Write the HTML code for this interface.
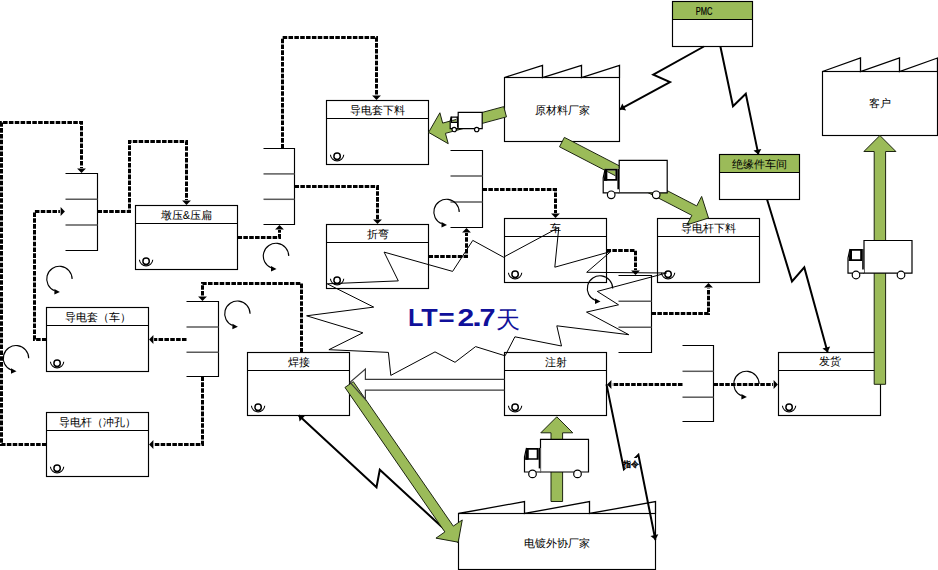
<!DOCTYPE html>
<html><head><meta charset="utf-8"><style>
html,body{margin:0;padding:0;background:#fff;width:938px;height:570px;overflow:hidden}
svg{display:block;font-family:"Liberation Sans",sans-serif}
</style></head><body>
<svg width="938" height="570" viewBox="0 0 938 570">
<rect width="938" height="570" fill="#fff"/>
<path d="M504.5,77.5 L542.5,65.5 L542.5,77.5 L581.5,65.5 L581.5,77.5 L619.5,65.5 L619.5,77.5 " fill="none" stroke="#000" stroke-width="1.3" stroke-linejoin="miter"/>
<rect x="504.5" y="77.5" width="115.0" height="64.0" fill="none" stroke="#000" stroke-width="1.15"/>
<path d="M822.5,71.5 L860.5,58 L860.5,71.5 L899.5,58 L899.5,71.5 L937.5,58 L937.5,71.5 " fill="none" stroke="#000" stroke-width="1.3" stroke-linejoin="miter"/>
<rect x="822.5" y="71.5" width="115.0" height="64.0" fill="none" stroke="#000" stroke-width="1.15"/>
<path d="M458.5,513.5 L524.5,501.6 L524.5,513.5 L589.5,501.6 L589.5,513.5 L655.5,501.6 L655.5,513.5 " fill="none" stroke="#000" stroke-width="1.3" stroke-linejoin="miter"/>
<rect x="458.5" y="513.5" width="197.0" height="56.0" fill="none" stroke="#000" stroke-width="1.15"/>
<rect x="135.5" y="205.5" width="102.0" height="64.0" fill="none" stroke="#000" stroke-width="1.15"/>
<line x1="135.5" y1="223.5" x2="237.5" y2="223.5" stroke="#000" stroke-width="1.15"/>
<circle cx="146.1" cy="261.2" r="3.2" fill="none" stroke="#000" stroke-width="1.45"/>
<path d="M152.78,259.67 A6.7,6.7 0 0 1 139.42,259.67" fill="none" stroke="#000" stroke-width="1.05"/>
<rect x="46.5" y="307.5" width="102.0" height="64.0" fill="none" stroke="#000" stroke-width="1.15"/>
<line x1="46.5" y1="325.5" x2="148.5" y2="325.5" stroke="#000" stroke-width="1.15"/>
<circle cx="57.1" cy="363.2" r="3.2" fill="none" stroke="#000" stroke-width="1.45"/>
<path d="M63.78,361.67 A6.7,6.7 0 0 1 50.42,361.67" fill="none" stroke="#000" stroke-width="1.05"/>
<rect x="46.5" y="412.5" width="102.0" height="64.0" fill="none" stroke="#000" stroke-width="1.15"/>
<line x1="46.5" y1="430.5" x2="148.5" y2="430.5" stroke="#000" stroke-width="1.15"/>
<circle cx="57.1" cy="468.2" r="3.2" fill="none" stroke="#000" stroke-width="1.45"/>
<path d="M63.78,466.67 A6.7,6.7 0 0 1 50.42,466.67" fill="none" stroke="#000" stroke-width="1.05"/>
<rect x="326.5" y="100.5" width="102.0" height="64.0" fill="none" stroke="#000" stroke-width="1.15"/>
<line x1="326.5" y1="118.5" x2="428.5" y2="118.5" stroke="#000" stroke-width="1.15"/>
<circle cx="337.1" cy="156.2" r="3.2" fill="none" stroke="#000" stroke-width="1.45"/>
<path d="M343.78,154.67 A6.7,6.7 0 0 1 330.42,154.67" fill="none" stroke="#000" stroke-width="1.05"/>
<rect x="326.5" y="224.5" width="102.0" height="64.0" fill="none" stroke="#000" stroke-width="1.15"/>
<line x1="326.5" y1="242.5" x2="428.5" y2="242.5" stroke="#000" stroke-width="1.15"/>
<circle cx="337.1" cy="280.2" r="3.2" fill="none" stroke="#000" stroke-width="1.45"/>
<path d="M343.78,278.67 A6.7,6.7 0 0 1 330.42,278.67" fill="none" stroke="#000" stroke-width="1.05"/>
<rect x="247.5" y="352.5" width="102.0" height="63.0" fill="none" stroke="#000" stroke-width="1.15"/>
<line x1="247.5" y1="370.5" x2="349.5" y2="370.5" stroke="#000" stroke-width="1.15"/>
<circle cx="258.1" cy="407.2" r="3.2" fill="none" stroke="#000" stroke-width="1.45"/>
<path d="M264.78,405.67 A6.7,6.7 0 0 1 251.42,405.67" fill="none" stroke="#000" stroke-width="1.05"/>
<rect x="504.5" y="218.5" width="102.0" height="64.0" fill="none" stroke="#000" stroke-width="1.15"/>
<line x1="504.5" y1="236.5" x2="606.5" y2="236.5" stroke="#000" stroke-width="1.15"/>
<circle cx="515.1" cy="274.2" r="3.2" fill="none" stroke="#000" stroke-width="1.45"/>
<path d="M521.78,272.67 A6.7,6.7 0 0 1 508.42,272.67" fill="none" stroke="#000" stroke-width="1.05"/>
<rect x="657.5" y="218.5" width="102.0" height="64.0" fill="none" stroke="#000" stroke-width="1.15"/>
<line x1="657.5" y1="236.5" x2="759.5" y2="236.5" stroke="#000" stroke-width="1.15"/>
<circle cx="668.1" cy="274.2" r="3.2" fill="none" stroke="#000" stroke-width="1.45"/>
<path d="M674.78,272.67 A6.7,6.7 0 0 1 661.42,272.67" fill="none" stroke="#000" stroke-width="1.05"/>
<rect x="504.5" y="352.5" width="102.0" height="63.0" fill="none" stroke="#000" stroke-width="1.15"/>
<line x1="504.5" y1="370.5" x2="606.5" y2="370.5" stroke="#000" stroke-width="1.15"/>
<circle cx="515.1" cy="407.2" r="3.2" fill="none" stroke="#000" stroke-width="1.45"/>
<path d="M521.78,405.67 A6.7,6.7 0 0 1 508.42,405.67" fill="none" stroke="#000" stroke-width="1.05"/>
<rect x="778.5" y="352.5" width="102.0" height="63.0" fill="none" stroke="#000" stroke-width="1.15"/>
<line x1="778.5" y1="370.5" x2="880.5" y2="370.5" stroke="#000" stroke-width="1.15"/>
<circle cx="789.1" cy="407.2" r="3.2" fill="none" stroke="#000" stroke-width="1.45"/>
<path d="M795.78,405.67 A6.7,6.7 0 0 1 782.42,405.67" fill="none" stroke="#000" stroke-width="1.05"/>
<rect x="672.5" y="1.5" width="80.0" height="18.0" fill="#9BBB59"/>
<rect x="672.5" y="1.5" width="80.0" height="45.0" fill="none" stroke="#000" stroke-width="1.15"/>
<line x1="672.5" y1="19.5" x2="752.5" y2="19.5" stroke="#000" stroke-width="1.15"/>
<rect x="719.5" y="154.5" width="80.0" height="18.0" fill="#9BBB59"/>
<rect x="719.5" y="154.5" width="80.0" height="45.0" fill="none" stroke="#000" stroke-width="1.15"/>
<line x1="719.5" y1="172.5" x2="799.5" y2="172.5" stroke="#000" stroke-width="1.15"/>
<path d="M65.5,173.5 H97.5 V250.5 H65.5" fill="none" stroke="#000" stroke-width="1.15"/>
<line x1="65.5" y1="199.2" x2="97.5" y2="199.2" stroke="#5a5a5a" stroke-width="1.5"/>
<line x1="65.5" y1="225" x2="97.5" y2="225" stroke="#5a5a5a" stroke-width="1.5"/>
<path d="M263.5,148.5 H294.5 V224.5 H263.5" fill="none" stroke="#000" stroke-width="1.15"/>
<line x1="263.5" y1="173.9" x2="294.5" y2="173.9" stroke="#5a5a5a" stroke-width="1.5"/>
<line x1="263.5" y1="199.3" x2="294.5" y2="199.3" stroke="#5a5a5a" stroke-width="1.5"/>
<path d="M186.5,301.5 H218.5 V376.5 H186.5" fill="none" stroke="#000" stroke-width="1.15"/>
<line x1="186.5" y1="327" x2="218.5" y2="327" stroke="#5a5a5a" stroke-width="1.5"/>
<line x1="186.5" y1="352.2" x2="218.5" y2="352.2" stroke="#5a5a5a" stroke-width="1.5"/>
<path d="M450.5,150.5 H482.5 V227.5 H450.5" fill="none" stroke="#000" stroke-width="1.15"/>
<line x1="450.5" y1="176" x2="482.5" y2="176" stroke="#5a5a5a" stroke-width="1.5"/>
<line x1="450.5" y1="201.9" x2="482.5" y2="201.9" stroke="#5a5a5a" stroke-width="1.5"/>
<path d="M618.5,275.5 H651.5 V352.5 H618.5" fill="none" stroke="#000" stroke-width="1.15"/>
<line x1="618.5" y1="301.3" x2="651.5" y2="301.3" stroke="#5a5a5a" stroke-width="1.5"/>
<line x1="618.5" y1="327.2" x2="651.5" y2="327.2" stroke="#5a5a5a" stroke-width="1.5"/>
<path d="M682.5,345.5 H713.5 V421.5 H682.5" fill="none" stroke="#000" stroke-width="1.15"/>
<line x1="682.5" y1="371.3" x2="713.5" y2="371.3" stroke="#5a5a5a" stroke-width="1.5"/>
<line x1="682.5" y1="397.2" x2="713.5" y2="397.2" stroke="#5a5a5a" stroke-width="1.5"/>
<polygon points="81.50,172.90 77.10,168.60 85.90,168.60" fill="#000"/>
<path d="M46.50,444.50 L1.50,444.50 L1.50,122.50 L81.50,122.50 L81.50,167.90" fill="none" stroke="#000" stroke-width="3" stroke-dasharray="4.55 1.3" stroke-linejoin="miter"/>
<polygon points="186.50,204.90 182.10,200.60 190.90,200.60" fill="#000"/>
<path d="M97.50,211.50 L129.50,211.50 L129.50,141.50 L186.50,141.50 L186.50,199.90" fill="none" stroke="#000" stroke-width="3" stroke-dasharray="4.55 1.3" stroke-linejoin="miter"/>
<polygon points="64.90,211.50 60.60,215.90 60.60,207.10" fill="#000"/>
<path d="M46.50,339.50 L34.50,339.50 L34.50,211.50 L59.90,211.50" fill="none" stroke="#000" stroke-width="3" stroke-dasharray="4.55 1.3" stroke-linejoin="miter"/>
<polygon points="279.50,225.10 283.90,229.40 275.10,229.40" fill="#000"/>
<path d="M237.50,237.50 L279.50,237.50 L279.50,230.10" fill="none" stroke="#000" stroke-width="3" stroke-dasharray="4.55 1.3" stroke-linejoin="miter"/>
<polygon points="376.50,99.90 372.10,95.60 380.90,95.60" fill="#000"/>
<path d="M282.50,148.50 L282.50,37.50 L376.50,37.50 L376.50,94.90" fill="none" stroke="#000" stroke-width="3" stroke-dasharray="4.55 1.3" stroke-linejoin="miter"/>
<polygon points="377.50,223.90 373.10,219.60 381.90,219.60" fill="#000"/>
<path d="M294.50,186.50 L377.50,186.50 L377.50,218.90" fill="none" stroke="#000" stroke-width="3" stroke-dasharray="4.55 1.3" stroke-linejoin="miter"/>
<polygon points="466.50,228.10 470.90,232.40 462.10,232.40" fill="#000"/>
<path d="M428.50,256.50 L466.50,256.50 L466.50,233.10" fill="none" stroke="#000" stroke-width="3" stroke-dasharray="4.55 1.3" stroke-linejoin="miter"/>
<polygon points="555.50,217.90 551.10,213.60 559.90,213.60" fill="#000"/>
<path d="M482.50,189.50 L555.50,189.50 L555.50,212.90" fill="none" stroke="#000" stroke-width="3" stroke-dasharray="4.55 1.3" stroke-linejoin="miter"/>
<polygon points="635.50,274.90 631.10,270.60 639.90,270.60" fill="#000"/>
<path d="M606.50,250.50 L635.50,250.50 L635.50,269.90" fill="none" stroke="#000" stroke-width="3" stroke-dasharray="4.55 1.3" stroke-linejoin="miter"/>
<polygon points="708.50,283.10 712.90,287.40 704.10,287.40" fill="#000"/>
<path d="M651.50,313.50 L708.50,313.50 L708.50,288.10" fill="none" stroke="#000" stroke-width="3" stroke-dasharray="4.55 1.3" stroke-linejoin="miter"/>
<polygon points="202.50,300.90 198.10,296.60 206.90,296.60" fill="#000"/>
<path d="M301.50,352.50 L301.50,283.50 L202.50,283.50 L202.50,295.90" fill="none" stroke="#000" stroke-width="3" stroke-dasharray="4.55 1.3" stroke-linejoin="miter"/>
<polygon points="149.10,339.50 153.40,335.10 153.40,343.90" fill="#000"/>
<path d="M186.50,339.50 L154.10,339.50" fill="none" stroke="#000" stroke-width="3" stroke-dasharray="4.55 1.3" stroke-linejoin="miter"/>
<polygon points="149.10,444.50 153.40,440.10 153.40,448.90" fill="#000"/>
<path d="M202.50,376.50 L202.50,444.50 L154.10,444.50" fill="none" stroke="#000" stroke-width="3" stroke-dasharray="4.55 1.3" stroke-linejoin="miter"/>
<polygon points="607.10,384.50 611.40,380.10 611.40,388.90" fill="#000"/>
<path d="M682.50,384.50 L612.10,384.50" fill="none" stroke="#000" stroke-width="3" stroke-dasharray="4.55 1.3" stroke-linejoin="miter"/>
<polygon points="777.90,384.50 773.60,388.90 773.60,380.10" fill="#000"/>
<path d="M713.50,384.50 L772.90,384.50" fill="none" stroke="#000" stroke-width="3" stroke-dasharray="4.55 1.3" stroke-linejoin="miter"/>
<path d="M72.10,279.00 A12.7,12.7 0 1 0 54.64,290.78" fill="none" stroke="#000" stroke-width="1.15"/>
<polygon points="59.90,292.00 54.40,289.00 54.40,294.60" fill="#000"/>
<path d="M28.70,358.20 A12.7,12.7 0 1 0 11.24,369.98" fill="none" stroke="#000" stroke-width="1.15"/>
<polygon points="16.50,371.20 11.00,368.20 11.00,373.80" fill="#000"/>
<path d="M288.70,256.00 A12.7,12.7 0 1 0 271.24,267.78" fill="none" stroke="#000" stroke-width="1.15"/>
<polygon points="276.50,269.00 271.00,266.00 271.00,271.60" fill="#000"/>
<path d="M250.10,313.70 A12.7,12.7 0 1 0 232.64,325.48" fill="none" stroke="#000" stroke-width="1.15"/>
<polygon points="237.90,326.70 232.40,323.70 232.40,329.30" fill="#000"/>
<path d="M459.20,212.00 A12.7,12.7 0 1 0 441.74,223.78" fill="none" stroke="#000" stroke-width="1.15"/>
<polygon points="447.00,225.00 441.50,222.00 441.50,227.60" fill="#000"/>
<path d="M612.70,288.50 A12.7,12.7 0 1 0 595.24,300.28" fill="none" stroke="#000" stroke-width="1.15"/>
<polygon points="600.50,301.50 595.00,298.50 595.00,304.10" fill="#000"/>
<path d="M759.10,384.00 A12.7,12.7 0 1 0 741.64,395.78" fill="none" stroke="#000" stroke-width="1.15"/>
<polygon points="746.90,397.00 741.40,394.00 741.40,399.60" fill="#000"/>
<path d="M703.9,46.5 L653.3,74.6 L670,82.1 L619.8,109.3" fill="none" stroke="#000" stroke-width="2" stroke-linejoin="miter"/>
<polygon points="619.80,109.30 622.29,103.40 626.10,110.43" fill="#000"/>
<path d="M720.4,46.5 L733,106.3 L745.8,93.7 L758.4,154.6" fill="none" stroke="#000" stroke-width="2" stroke-linejoin="miter"/>
<polygon points="758.40,154.60 753.47,150.51 761.30,148.89" fill="#000"/>
<path d="M767,199.3 L792,281.4 L804.3,267.4 L827.6,352.3" fill="none" stroke="#000" stroke-width="2" stroke-linejoin="miter"/>
<polygon points="827.60,352.30 822.42,348.54 830.13,346.42" fill="#000"/>
<path d="M458.5,542.2 L379.8,469.8 L376.5,487.3 L298.6,415.2" fill="none" stroke="#000" stroke-width="2" stroke-linejoin="miter"/>
<polygon points="298.60,415.20 304.99,415.66 299.55,421.53" fill="#000"/>
<path d="M606.5,384.4 L623.9,469.2 L638.4,454.8 L655.4,540" fill="none" stroke="#000" stroke-width="2" stroke-linejoin="miter"/>
<polygon points="655.40,540.00 650.50,535.88 658.34,534.31" fill="#000"/>
<rect x="624.2" y="458" width="13.6" height="10.2" fill="#fff"/>
<text x="631.3" y="466.6" font-size="7.6" text-anchor="middle" fill="#000" stroke="#000" stroke-width="0.45">指令</text>
<polygon points="503.72,106.63 442.67,123.11 439.88,112.78 428.60,132.40 448.22,143.68 445.43,133.35 506.48,116.87" fill="#9BBB59" stroke="#1c2410" stroke-width="1" stroke-linejoin="miter"/>
<polygon points="559.51,146.81 691.85,215.35 686.93,224.85 708.50,218.00 701.65,196.43 696.73,205.94 564.39,137.39" fill="#9BBB59" stroke="#1c2410" stroke-width="1" stroke-linejoin="miter"/>
<polygon points="885.60,384.30 885.60,151.50 895.90,151.50 879.90,135.50 863.90,151.50 874.20,151.50 874.20,384.30" fill="#9BBB59" stroke="#1c2410" stroke-width="1" stroke-linejoin="miter"/>
<polygon points="344.96,387.45 444.90,531.94 435.94,538.14 458.20,542.20 462.26,519.94 453.29,526.14 353.34,381.65" fill="#9BBB59" stroke="#1c2410" stroke-width="1" stroke-linejoin="miter"/>
<polygon points="562.60,501.50 562.60,432.80 572.80,432.80 556.80,416.80 540.80,432.80 551.00,432.80 551.00,501.50" fill="#9BBB59" stroke="#1c2410" stroke-width="1" stroke-linejoin="miter"/>
<g transform="translate(458.2,112.3) scale(0.5)">
<rect x="0" y="0" width="48" height="32.6" fill="#fff" stroke="#000" stroke-width="1.2" vector-effect="non-scaling-stroke"/>
<path d="M0,8.5 H-14 L-16,17.5 V32.6 H0 Z M-12,10.3 V18.8 H-3.8 V10.3 Z" fill="#fff" fill-rule="evenodd" stroke="none"/>
<path d="M-14,8.5 L-16,17.5 V32.6 H0" fill="none" stroke="#000" stroke-width="1.2" vector-effect="non-scaling-stroke"/>
<rect x="-13.4" y="9.6" width="11.6" height="10.6" fill="none" stroke="#000" stroke-width="1.3" vector-effect="non-scaling-stroke"/>
<line x1="-1" y1="8.5" x2="-1" y2="31" stroke="#000" stroke-width="1.4" vector-effect="non-scaling-stroke"/>
<circle cx="-8" cy="34.5" r="4.4" fill="#fff" stroke="#000" stroke-width="1.2" vector-effect="non-scaling-stroke"/>
<circle cx="37" cy="34.5" r="4.4" fill="#fff" stroke="#000" stroke-width="1.2" vector-effect="non-scaling-stroke"/>
</g>
<g transform="translate(619.2,160.3) scale(1.0)">
<rect x="0" y="0" width="48" height="32.6" fill="#fff" stroke="#000" stroke-width="1.2" vector-effect="non-scaling-stroke"/>
<path d="M0,8.5 H-14 L-16,17.5 V32.6 H0 Z M-12,10.3 V18.8 H-3.8 V10.3 Z" fill="#fff" fill-rule="evenodd" stroke="none"/>
<path d="M-14,8.5 L-16,17.5 V32.6 H0" fill="none" stroke="#000" stroke-width="1.2" vector-effect="non-scaling-stroke"/>
<path d="M-14,8.5 H-1.8 V20.4 H-15.2 Z M-12,10.3 V18.8 H-3.8 V10.3 Z" fill="#000" fill-rule="evenodd"/>
<path d="M-14,8.5 L-15.4,20.4 H-12 L-12,10.3 Z" fill="#000"/>
<rect x="-1.8" y="8.5" width="1.6" height="20.5" fill="#000"/>
<circle cx="-8" cy="34.5" r="3.8" fill="#fff" stroke="#000" stroke-width="1.2" vector-effect="non-scaling-stroke"/>
<circle cx="37" cy="34.5" r="3.8" fill="#fff" stroke="#000" stroke-width="1.2" vector-effect="non-scaling-stroke"/>
</g>
<g transform="translate(864,240.5) scale(1.0)">
<rect x="0" y="0" width="48" height="32.6" fill="#fff" stroke="#000" stroke-width="1.2" vector-effect="non-scaling-stroke"/>
<path d="M0,8.5 H-14 L-16,17.5 V32.6 H0 Z M-12,10.3 V18.8 H-3.8 V10.3 Z" fill="#fff" fill-rule="evenodd" stroke="none"/>
<path d="M-14,8.5 L-16,17.5 V32.6 H0" fill="none" stroke="#000" stroke-width="1.2" vector-effect="non-scaling-stroke"/>
<path d="M-14,8.5 H-1.8 V20.4 H-15.2 Z M-12,10.3 V18.8 H-3.8 V10.3 Z" fill="#000" fill-rule="evenodd"/>
<path d="M-14,8.5 L-15.4,20.4 H-12 L-12,10.3 Z" fill="#000"/>
<rect x="-1.8" y="8.5" width="1.6" height="20.5" fill="#000"/>
<circle cx="-8" cy="34.5" r="3.8" fill="#fff" stroke="#000" stroke-width="1.2" vector-effect="non-scaling-stroke"/>
<circle cx="37" cy="34.5" r="3.8" fill="#fff" stroke="#000" stroke-width="1.2" vector-effect="non-scaling-stroke"/>
</g>
<g transform="translate(540.5,439.4) scale(1.0)">
<rect x="0" y="0" width="48" height="32.6" fill="#fff" stroke="#000" stroke-width="1.2" vector-effect="non-scaling-stroke"/>
<path d="M0,8.5 H-14 L-16,17.5 V32.6 H0 Z M-12,10.3 V18.8 H-3.8 V10.3 Z" fill="#fff" fill-rule="evenodd" stroke="none"/>
<path d="M-14,8.5 L-16,17.5 V32.6 H0" fill="none" stroke="#000" stroke-width="1.2" vector-effect="non-scaling-stroke"/>
<path d="M-14,8.5 H-1.8 V20.4 H-15.2 Z M-12,10.3 V18.8 H-3.8 V10.3 Z" fill="#000" fill-rule="evenodd"/>
<path d="M-14,8.5 L-15.4,20.4 H-12 L-12,10.3 Z" fill="#000"/>
<rect x="-1.8" y="8.5" width="1.6" height="20.5" fill="#000"/>
<circle cx="-8" cy="34.5" r="3.8" fill="#fff" stroke="#000" stroke-width="1.2" vector-effect="non-scaling-stroke"/>
<circle cx="37" cy="34.5" r="3.8" fill="#fff" stroke="#000" stroke-width="1.2" vector-effect="non-scaling-stroke"/>
</g>
<path d="M504.6,379.3 H365.4 V369.1 L350,382.4 L365.4,399.5 V390.1 H504.6" fill="none" stroke="#3a3a3a" stroke-width="1.2"/>
<polygon points="384.1,252.1 452.6,271.4 472.8,240.4 503.5,257.2 558.8,227.5 554.8,267.2 610.8,251.5 586.7,272.3 666.5,273 597.3,291.4 618.5,304.8 586.5,312.1 628.8,334.7 556.8,325.8 561.5,346 514.9,336.8 505.1,355.8 475.6,346.6 455,362.3 435,351.9 390.8,375.4 388.4,352.4 328.9,349.7 362.9,332.8 306.6,315.8 373.7,307.1 327.2,283.8 398.3,280.9" fill="none" stroke="#000" stroke-width="1"/>
<text transform="translate(407.96,325.8) scale(1.05,0.99)" font-size="24" font-weight="bold" fill="#10109a">L</text>
<text transform="translate(421.31,325.8) scale(1.12,0.99)" font-size="24" font-weight="bold" fill="#10109a">T</text>
<text transform="translate(438.48,325.8) scale(1.15,0.99)" font-size="24" font-weight="bold" fill="#10109a">=</text>
<text transform="translate(457.50,325.8) scale(1.25,0.99)" font-size="24" font-weight="bold" fill="#10109a">2</text>
<text transform="translate(471.88,325.8) scale(1.5,0.99)" font-size="24" font-weight="bold" fill="#10109a">.</text>
<text transform="translate(479.50,325.8) scale(1.2,0.99)" font-size="24" font-weight="bold" fill="#10109a">7</text>
<text x="496" y="327.6" font-size="24" fill="#10109a">天</text>
<text x="562.3" y="114.2" font-size="11" text-anchor="middle" fill="#000">原材料厂家</text>
<text x="879.8" y="107.2" font-size="11" text-anchor="middle" fill="#000">客户</text>
<text x="557" y="546.5" font-size="11" text-anchor="middle" fill="#000">电镀外协厂家</text>
<text x="186.5" y="219.3" font-size="11" text-anchor="middle" fill="#000">墩压&amp;压扁</text>
<text x="97.5" y="321.3" font-size="11" text-anchor="middle" fill="#000">导电套（车）</text>
<text x="97.5" y="426.3" font-size="11" text-anchor="middle" fill="#000">导电杆（冲孔）</text>
<text x="377.5" y="114.3" font-size="11" text-anchor="middle" fill="#000">导电套下料</text>
<text x="377.5" y="238.3" font-size="11" text-anchor="middle" fill="#000">折弯</text>
<text x="298.5" y="365.5" font-size="11" text-anchor="middle" fill="#000">焊接</text>
<text x="555.5" y="232.3" font-size="11" text-anchor="middle" fill="#000">车</text>
<text x="708.5" y="232.3" font-size="11" text-anchor="middle" fill="#000">导电杆下料</text>
<text x="555.5" y="365.5" font-size="11" text-anchor="middle" fill="#000">注射</text>
<text x="829.5" y="365.40000000000003" font-size="11" text-anchor="middle" fill="#000">发货</text>
<text x="704" y="14.8" font-size="10" text-anchor="middle" fill="#000" stroke="#000" stroke-width="0.2" transform="translate(704,0) scale(0.75,1) translate(-704,0)">PMC</text>
<text x="759.5" y="168.3" font-size="11" text-anchor="middle" fill="#000">绝缘件车间</text>
</svg></body></html>
